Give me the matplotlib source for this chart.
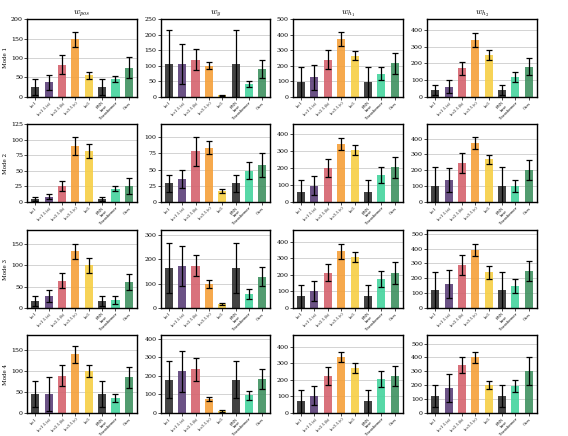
import numpy as np
import matplotlib
matplotlib.use("Agg")
import matplotlib.pyplot as plt

methods = ["k=1", "k=1.5 (a)", "k=2.5 (b)", "k=3.5 (c)", "k=5", "RNN\nbase", "Transformer", "Ours"]
colors = ["#2e2e2e", "#5b3f78", "#d5636e", "#f5a03a", "#f7cf45", "#2e2e2e", "#45d49e", "#3f9160"]
titles = [r"$w_{pos}$", r"$w_{y}$", r"$w_{h_1}$", r"$w_{h_2}$"]
rows = ["Mode 1", "Mode 2", "Mode 3", "Mode 4"]

# mean values, one list per panel (row, col)
means = [
    [[25, 37, 83, 148, 55, 25, 45, 75],
     [105, 105, 120, 100, 5, 105, 40, 90],
     [95, 125, 240, 375, 265, 95, 150, 215],
     [38, 60, 170, 340, 250, 38, 120, 180]],
    [[5, 8, 26, 90, 82, 5, 21, 25],
     [29, 36, 78, 84, 17, 29, 48, 57],
     [61, 97, 202, 343, 307, 61, 158, 204],
     [100, 136, 245, 370, 270, 100, 100, 202]],
    [[16, 28, 64, 133, 100, 16, 19, 61],
     [165, 172, 174, 97, 17, 165, 56, 128],
     [69, 104, 213, 343, 305, 69, 175, 211],
     [118, 161, 289, 391, 239, 118, 148, 250]],
    [[45, 45, 88, 140, 100, 45, 35, 85],
     [180, 225, 235, 75, 10, 180, 95, 185],
     [70, 105, 225, 340, 270, 70, 205, 225],
     [120, 180, 345, 400, 200, 120, 195, 300]],
]
errors = [
    [[20, 20, 25, 20, 8, 20, 8, 27],
     [110, 65, 35, 12, 2, 110, 10, 30],
     [100, 80, 60, 45, 30, 100, 40, 70],
     [30, 40, 40, 40, 30, 30, 30, 50]],
    [[3, 4, 8, 15, 12, 3, 4, 13],
     [13, 14, 22, 10, 3, 13, 13, 19],
     [67, 55, 55, 38, 28, 67, 48, 60],
     [123, 75, 62, 38, 28, 123, 38, 64]],
    [[12, 14, 18, 18, 18, 12, 9, 18],
     [102, 81, 44, 17, 4, 102, 20, 40],
     [71, 60, 53, 45, 30, 71, 48, 65],
     [125, 94, 70, 43, 45, 125, 45, 68]],
    [[30, 40, 25, 20, 15, 30, 10, 25],
     [100, 110, 60, 10, 3, 100, 25, 55],
     [70, 55, 55, 30, 30, 70, 50, 60],
     [80, 100, 60, 40, 30, 80, 45, 100]],
]
ylims = [[200, 250, 500, 465],
         [125, 120, 460, 490],
         [183, 320, 470, 525],
         [185, 420, 470, 560]]
ytick_steps = [[50, 50, 100, 100],
               [25, 25, 100, 100],
               [50, 100, 100, 100],
               [50, 100, 100, 100]]

plt.rcParams["font.family"] = "DejaVu Serif"
plt.rcParams["mathtext.fontset"] = "cm"

fig = plt.figure(figsize=(5.68, 4.36), dpi=100)
lefts = [0.048, 0.283, 0.516, 0.752]
bottoms = [0.778, 0.537, 0.294, 0.053]
w, h = 0.193, 0.178

x = np.arange(len(methods))
for r in range(4):
    for c in range(4):
        ax = fig.add_axes([lefts[c], bottoms[r], w, h])
        ax.bar(x, means[r][c], width=0.6, color=colors, alpha=0.9, zorder=2)
        ax.errorbar(x, means[r][c], yerr=errors[r][c], fmt="none", ecolor="black",
                    elinewidth=0.9, capsize=2.2, capthick=0.9, zorder=3)
        ax.set_ylim(0, ylims[r][c])
        ax.set_xlim(-0.6, len(methods) - 0.4)
        ax.set_yticks(np.arange(0, ylims[r][c] + 1, ytick_steps[r][c]))
        ax.yaxis.grid(True, color="#cccccc", linewidth=0.6, zorder=0)
        ax.set_axisbelow(True)
        ax.set_xticks(x)
        ax.set_xticklabels(methods, rotation=45, ha="right", fontsize=2.6,
                           rotation_mode="anchor")
        ax.tick_params(axis="y", labelsize=4.5, length=2, width=0.5, pad=1)
        ax.tick_params(axis="x", length=2, width=0.5, pad=1)
        for s in ax.spines.values():
            s.set_linewidth(1.0)
        if r == 0:
            ax.set_title(titles[c], fontsize=6.5, pad=2)
        if c == 0:
            ax.set_ylabel(rows[r], fontsize=4, labelpad=2)

fig.savefig("out.png", dpi=100)
